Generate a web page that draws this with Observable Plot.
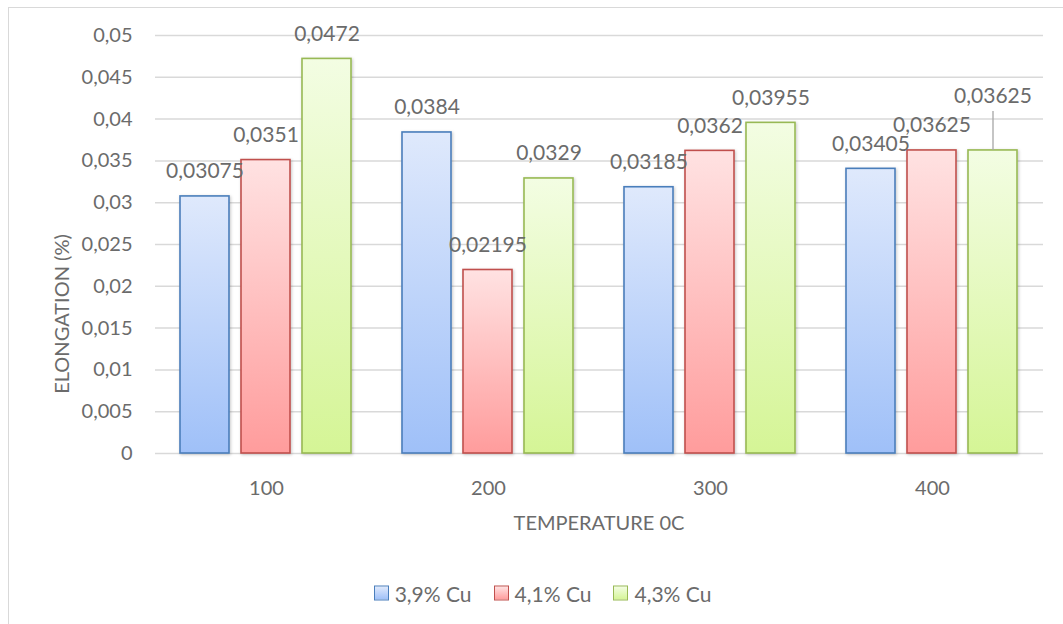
<!DOCTYPE html>
<html>
<head>
<meta charset="utf-8">
<script src="https://cdn.jsdelivr.net/npm/d3@7"></script>
<script src="https://cdn.jsdelivr.net/npm/@observablehq/plot@0.6"></script>
<style>
  html, body { margin: 0; padding: 0; background: #fff; }
  body { width: 1063px; height: 624px; overflow: hidden; position: relative; font-family: Lato, "Open Sans", sans-serif; }
  #frame { position: absolute; left: 8px; top: 7px; width: 1200px; height: 800px; border-left: 1.5px solid #d9d9d9; border-top: 1.5px solid #d9d9d9; }
  #chart { position: absolute; left: 0; top: 0; }
  .title { position: absolute; color: #6b6b6b; font-size: 20px; white-space: nowrap; }
  #ytitle { left: 61px; top: 314px; transform: translate(-50%, -50%) rotate(-90deg); }
  #xtitle { left: 599px; top: 522px; transform: translate(-50%, -50%); }
  #legend { position: absolute; left: 0; width: 1063px; top: 593px; transform: translateY(-50%); display: flex; justify-content: center; gap: 22px; padding-left: 22px; box-sizing: border-box; color: #6b6b6b; font-size: 21px; }
  .item { display: flex; align-items: center; gap: 6px; }
  .sw { width: 13px; height: 13px; border: 1.5px solid; }
</style>
</head>
<body>
<div id="frame"></div>
<div id="chart"></div>
<div class="title" id="ytitle">ELONGATION (%)</div>
<div class="title" id="xtitle">TEMPERATURE 0C</div>
<div id="legend"></div>
<script>
// ---- data ----
const temperatures = ["100", "200", "300", "400"];
const seriesNames = ["3,9% Cu", "4,1% Cu", "4,3% Cu"];
const cu39 = [0.03075, 0.0384, 0.03185, 0.03405];
const cu41 = [0.0351, 0.02195, 0.0362, 0.03625];
const cu43 = [0.0472, 0.0329, 0.03955, 0.03625];
const yTicks = [0, 0.005, 0.01, 0.015, 0.02, 0.025, 0.03, 0.035, 0.04, 0.045, 0.05];

// ---- styles ----
const seriesStyle = [
  {id: "gBlue", top: "#dfe9fc", bottom: "#9fc0f8", stroke: "#4a7ebb"},
  {id: "gRed", top: "#ffe2e2", bottom: "#ff9c9c", stroke: "#c0504d"},
  {id: "gGreen", top: "#f3fde3", bottom: "#d5f596", stroke: "#98b954"}
];
const leaderLabel = {temp: "400", series: "4,3% Cu"};

const valuesBySeries = [cu39, cu41, cu43];
const data = [];
temperatures.forEach((t, i) => {
  seriesNames.forEach((s, j) => {
    data.push({temp: t, series: s, value: valuesBySeries[j][i], si: j});
  });
});
const fmt = v => String(v).replace(".", ",");
const isLeader = d => d.temp === leaderLabel.temp && d.series === leaderLabel.series;

const font = "Lato, 'Open Sans', sans-serif";
const textColor = "#6b6b6b";

const chart = Plot.plot({
  width: 1063,
  height: 500,
  marginLeft: 155,
  marginRight: 20,
  marginTop: 35,
  marginBottom: 47,
  style: {fontFamily: font, fontSize: "20px", color: textColor, background: "transparent", overflow: "visible"},
  facet: {data, x: "temp"},
  fx: {domain: temperatures, paddingInner: 0.216, paddingOuter: 0.108, axis: "bottom", label: null, tickSize: 0, tickPadding: 27},
  x: {domain: seriesNames, paddingInner: 0.1935, paddingOuter: 0, axis: null},
  y: {domain: [0, 0.05], ticks: yTicks, tickFormat: d => fmt(+d3.format(".3f")(d)), tickSize: 0, tickPadding: 47, label: null},
  marks: [
    Plot.ruleY(yTicks, {stroke: "#d9d9d9", strokeWidth: 1.5, insetLeft: -24, insetRight: -24}),
    Plot.barY(data, {
      x: "series", y: "value",
      fill: d => `url(#${seriesStyle[d.si].id})`,
      stroke: d => seriesStyle[d.si].stroke,
      strokeWidth: 1.6,
      className: "bars"
    }),
    Plot.ruleX(data, {x: "series", y1: "value", y2: "value", filter: isLeader, insetTop: -39, stroke: "#a6a6a6", strokeWidth: 1.3}),
    Plot.text(data, {
      x: "series", y: "value",
      text: d => fmt(d.value),
      fill: textColor,
      fontSize: 21,
      filter: d => !isLeader(d),
      dy: -25
    }),
    Plot.text(data, {
      x: "series", y: "value",
      text: d => fmt(d.value),
      fill: textColor,
      fontSize: 21,
      filter: isLeader,
      dy: -54
    })
  ]
});

// gradients and shadow
const svg = d3.select(chart);
const defs = svg.insert("defs", ":first-child");
seriesStyle.forEach(s => {
  const g = defs.append("linearGradient").attr("id", s.id).attr("x1", 0).attr("y1", 0).attr("x2", 0).attr("y2", 1);
  g.append("stop").attr("offset", "0%").attr("stop-color", s.top);
  g.append("stop").attr("offset", "100%").attr("stop-color", s.bottom);
});
const f = defs.append("filter").attr("id", "shadow").attr("x", "-20%").attr("y", "-20%").attr("width", "140%").attr("height", "140%");
f.append("feDropShadow").attr("dx", 1).attr("dy", 1).attr("stdDeviation", 1.5).attr("flood-color", "#000").attr("flood-opacity", 0.22);
svg.selectAll(".bars rect").attr("filter", "url(#shadow)");
svg.selectAll("text").attr("fill", textColor);

document.getElementById("chart").appendChild(chart);

// legend
const legend = d3.select("#legend");
seriesNames.forEach((s, j) => {
  const it = legend.append("div").attr("class", "item");
  it.append("div").attr("class", "sw")
    .style("border-color", seriesStyle[j].stroke)
    .style("background", `linear-gradient(${seriesStyle[j].top}, ${seriesStyle[j].bottom})`);
  it.append("span").text(s);
});
</script>
</body>
</html>
